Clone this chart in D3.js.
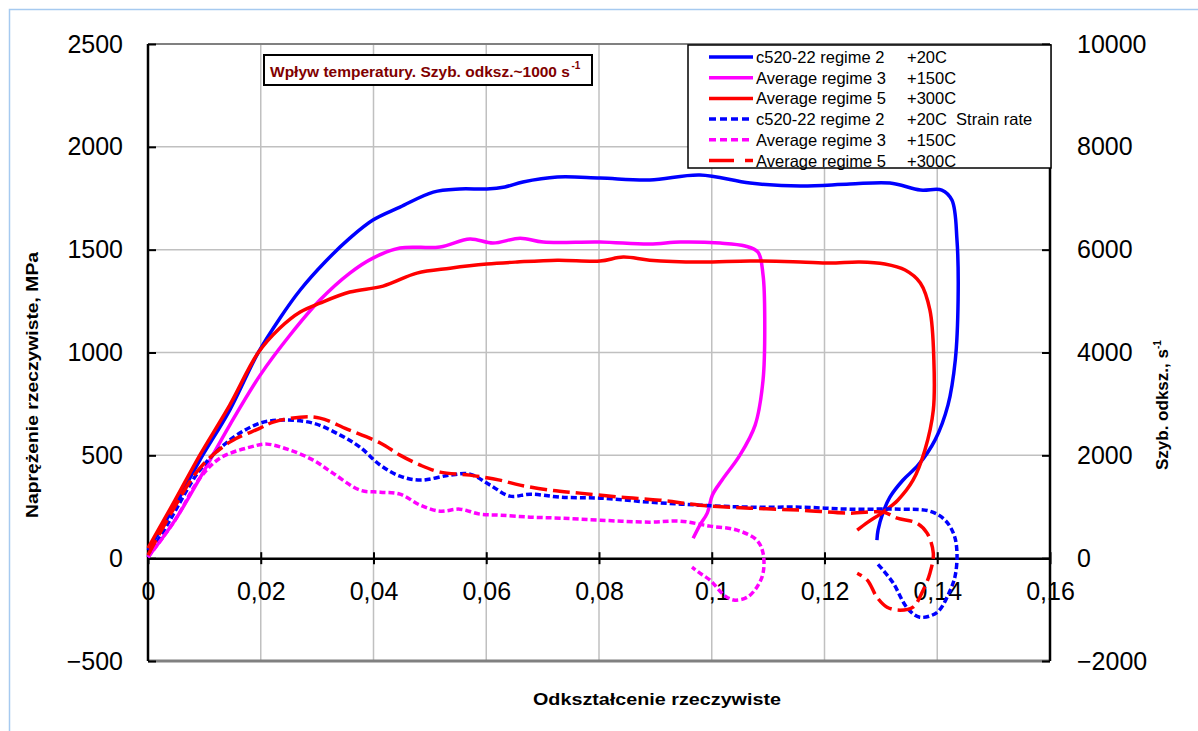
<!DOCTYPE html>
<html lang="pl">
<head>
<meta charset="UTF-8">
<title>Wpływ temperatury</title>
<script src="https://d3js.org/d3.v7.min.js"></script>
<style>
  body { margin: 0; background: #fff; }
  svg text { font-family: "Liberation Sans", Arial, sans-serif; }
</style>
</head>
<body>
<svg id="chart" width="1198" height="731"></svg>
<script>
// stress curves [strain, MPa]
const stress20 = [[0,39],[0.0048,258],[0.0092,477],[0.0145,720],[0.0195,997],[0.0234,1167],[0.027,1304],[0.0314,1440],[0.0358,1556],[0.0399,1644],[0.0447,1707],[0.0506,1780],[0.0553,1795],[0.0601,1795],[0.0633,1805],[0.0665,1829],[0.0726,1853],[0.0802,1848],[0.089,1839],[0.0979,1863],[0.1068,1824],[0.1157,1809],[0.1245,1819],[0.1316,1824],[0.137,1790],[0.1408,1790],[0.1426,1741],[0.1435,1547],[0.1437,1255],[0.1432,963],[0.1419,744],[0.1396,574],[0.1366,452],[0.1339,379],[0.1316,297],[0.1304,224],[0.1295,136],[0.1293,88]];
const stress150 = [[0,5],[0.0048,185],[0.0092,389],[0.0145,647],[0.0199,890],[0.0252,1085],[0.0305,1255],[0.0358,1386],[0.0399,1459],[0.0447,1508],[0.0518,1513],[0.0571,1552],[0.0612,1532],[0.066,1556],[0.0701,1537],[0.0802,1537],[0.089,1527],[0.0944,1537],[0.1015,1532],[0.1059,1518],[0.1082,1488],[0.1091,1377],[0.1094,1158],[0.1091,866],[0.1077,647],[0.105,501],[0.1018,379],[0.1001,306],[0.0992,219],[0.0979,161],[0.0967,97]];
const stress300 = [[0,49],[0.0048,282],[0.0092,501],[0.0145,744],[0.0195,997],[0.0234,1119],[0.027,1197],[0.0305,1240],[0.0358,1294],[0.0417,1323],[0.0477,1386],[0.0536,1410],[0.0601,1430],[0.0655,1440],[0.0726,1449],[0.0802,1445],[0.0843,1464],[0.089,1449],[0.0979,1440],[0.1068,1445],[0.1157,1440],[0.121,1435],[0.1263,1440],[0.1307,1430],[0.1343,1401],[0.137,1338],[0.1387,1206],[0.1394,963],[0.1393,720],[0.1378,525],[0.1357,379],[0.133,282],[0.1304,224],[0.1277,175],[0.1258,136]];

// strain rate curves [strain, 1/s]
const rate20 = [[0,19],[0.0039,739],[0.0092,1712],[0.0145,2296],[0.0199,2626],[0.024,2685],[0.0293,2626],[0.0341,2393],[0.0376,2160],[0.0412,1809],[0.0447,1595],[0.0483,1518],[0.0536,1615],[0.0571,1634],[0.0607,1420],[0.0642,1206],[0.0678,1245],[0.0731,1187],[0.0802,1167],[0.089,1089],[0.0979,1031],[0.1068,992],[0.1157,992],[0.1245,953],[0.1334,953],[0.1387,914],[0.1414,739],[0.143,447],[0.1435,97],[0.1432,-331],[0.1423,-623],[0.14,-1051],[0.1369,-1148],[0.1347,-973],[0.1322,-486],[0.1304,-233],[0.1293,-97]];
const rate150 = [[0,19],[0.0048,739],[0.0092,1556],[0.0128,1946],[0.0181,2160],[0.0211,2218],[0.0252,2101],[0.0293,1907],[0.0328,1654],[0.0376,1323],[0.0412,1284],[0.0447,1245],[0.0483,1031],[0.0518,914],[0.0553,953],[0.0589,856],[0.0624,837],[0.0678,798],[0.0731,778],[0.0802,739],[0.089,700],[0.0944,720],[0.0997,623],[0.1045,545],[0.108,350],[0.1091,97],[0.1091,-292],[0.108,-564],[0.1063,-759],[0.1041,-817],[0.1024,-739],[0.0997,-428],[0.0979,-292],[0.0965,-175]];
const rate300 = [[0,58],[0.0039,837],[0.0092,1751],[0.0145,2257],[0.0199,2529],[0.0222,2646],[0.027,2743],[0.0305,2724],[0.0353,2510],[0.0412,2240],[0.0447,2004],[0.0483,1809],[0.0518,1673],[0.0571,1615],[0.0624,1518],[0.066,1420],[0.0713,1323],[0.0766,1265],[0.0837,1187],[0.0908,1128],[0.0979,1031],[0.1068,973],[0.1157,934],[0.1245,875],[0.1304,895],[0.1329,778],[0.1364,681],[0.1382,486],[0.1393,97],[0.1387,-292],[0.1375,-623],[0.1357,-953],[0.1334,-1012],[0.1311,-953],[0.1293,-759],[0.1276,-428],[0.1258,-292]];

const xTicks = [0, 0.02, 0.04, 0.06, 0.08, 0.1, 0.12, 0.14, 0.16];
const leftTicks = [-500, 0, 500, 1000, 1500, 2000, 2500];
const rightTicks = [-2000, 0, 2000, 4000, 6000, 8000, 10000];
const legendNames = ["c520-22 regime 2", "Average regime 3", "Average regime 5", "c520-22 regime 2", "Average regime 3", "Average regime 5"];
const legendTemps = ["+20C", "+150C", "+300C", "+20C  Strain rate", "+150C", "+300C"];

const svg = d3.select("#chart");
const L = 148, R = 1050, T = 44, B = 661;

const x = d3.scaleLinear().domain([0, 0.16]).range([L, R]);
const yL = d3.scaleLinear().domain([-500, 2500]).range([B, T]);
const yR = d3.scaleLinear().domain([-2000, 10000]).range([B, T]);

// outer frame
svg.append("rect").attr("x", 9.5).attr("y", 9.5).attr("width", 1250).attr("height", 800)
  .attr("fill", "none").attr("stroke", "#a6caf0").attr("stroke-width", 1.5);

// grid
svg.append("g").selectAll("line").data(xTicks.filter(d => d > 0 && d < 0.16)).join("line")
  .attr("x1", d => x(d)).attr("x2", d => x(d)).attr("y1", T).attr("y2", B)
  .attr("stroke", "#c0c0c0").attr("stroke-width", 1.5);
svg.append("g").selectAll("line").data(leftTicks.filter(d => d > 0 && d < 2500)).join("line")
  .attr("x1", L).attr("x2", R).attr("y1", d => yL(d)).attr("y2", d => yL(d))
  .attr("stroke", "#c0c0c0").attr("stroke-width", 1.5);

// plot frame top/bottom
svg.append("line").attr("x1", L).attr("x2", R).attr("y1", T).attr("y2", T)
  .attr("stroke", "#808080").attr("stroke-width", 2);
svg.append("line").attr("x1", L).attr("x2", R).attr("y1", B).attr("y2", B)
  .attr("stroke", "#808080").attr("stroke-width", 3);

// axes
const fmtX = d => d === 0 ? "0" : String(+d.toFixed(2)).replace(".", ",");
const axL = svg.append("g").attr("transform", `translate(${L},0)`)
  .call(d3.axisLeft(yL).tickValues(leftTicks).tickSize(-8).tickPadding(25).tickSizeOuter(0).tickFormat(d3.format("d")));
const axR = svg.append("g").attr("transform", `translate(${R},0)`)
  .call(d3.axisRight(yR).tickValues(rightTicks).tickSize(-8).tickPadding(27).tickSizeOuter(0).tickFormat(d3.format("d")));
const axX = svg.append("g").attr("transform", `translate(0,${yL(0)})`)
  .call(d3.axisBottom(x).tickValues(xTicks).tickSize(6).tickPadding(18).tickSizeOuter(0).tickFormat(fmtX));
axX.selectAll(".tick line").attr("y1", -6);
[axL, axR, axX].forEach(a => {
  a.selectAll(".domain").attr("stroke", "#000").attr("stroke-width", 2.5);
  a.selectAll(".tick line").attr("stroke", "#000").attr("stroke-width", 2);
  a.selectAll(".tick text").attr("font-size", 25).attr("fill", "#000")
    .style("font-family", '"Liberation Sans", Arial, sans-serif');
});
axL.select(".domain").attr("d", `M0,${T}V${B}`);
axR.select(".domain").attr("d", `M0,${T}V${B}`);

// curves
const curve = d3.curveCatmullRom.alpha(0.5);
const lineL = d3.line().x(d => x(d[0])).y(d => yL(d[1])).curve(curve);
const lineR = d3.line().x(d => x(d[0])).y(d => yR(d[1])).curve(curve);
const plot = [
  { data: stress20, gen: lineL, color: "#0000ff", dash: null, legDash: null },
  { data: stress150, gen: lineL, color: "#ff00ff", dash: null, legDash: null },
  { data: stress300, gen: lineL, color: "#ff0000", dash: null, legDash: null },
  { data: rate20, gen: lineR, color: "#0000ff", dash: "6,3", legDash: "7,4" },
  { data: rate150, gen: lineR, color: "#ff00ff", dash: "6,3", legDash: "7,4" },
  { data: rate300, gen: lineR, color: "#ff0000", dash: "17,6", legDash: "25,11" }
];
svg.append("g").selectAll("path").data(plot).join("path")
  .attr("d", s => s.gen(s.data))
  .attr("fill", "none").attr("stroke", s => s.color).attr("stroke-width", 3.5)
  .attr("stroke-dasharray", s => s.dash).attr("stroke-linejoin", "round");

// title box
const tg = svg.append("g");
tg.append("rect").attr("x", 264).attr("y", 55).attr("width", 328).attr("height", 30)
  .attr("fill", "#fff").attr("stroke", "#000").attr("stroke-width", 2);
const tMain = tg.append("text").attr("x", 270).attr("y", 77).attr("font-size", 15.5)
  .attr("font-weight", "bold").attr("fill", "#800000")
  .text("Wpływ temperatury. Szyb. odksz.~1000 s");
const tEnd = 270 + tMain.node().getComputedTextLength();
tg.append("text").attr("x", tEnd + 1.5).attr("y", 69).attr("font-size", 10)
  .attr("font-weight", "bold").attr("fill", "#800000").text("-1");

// legend
const lg = svg.append("g");
lg.append("rect").attr("x", 688).attr("y", 45).attr("width", 363).attr("height", 123)
  .attr("fill", "#fff").attr("stroke", "#000").attr("stroke-width", 1.5);
const rows = lg.selectAll("g.row").data(plot).join("g").attr("class", "row")
  .attr("transform", (d, i) => `translate(0,${57 + i * 20.7})`);
rows.append("line").attr("x1", 709).attr("x2", 753).attr("y1", 0).attr("y2", 0)
  .attr("stroke", d => d.color).attr("stroke-width", 3.5).attr("stroke-dasharray", d => d.legDash);
rows.append("text").attr("x", 756).attr("y", 6).attr("font-size", 16.5).text((d, i) => legendNames[i]);
rows.append("text").attr("x", 907).attr("y", 6).attr("font-size", 16.5)
  .attr("xml:space", "preserve").style("white-space", "pre").text((d, i) => legendTemps[i]);

// axis titles
svg.append("text").attr("transform", "translate(38,385) rotate(-90)").attr("text-anchor", "middle")
  .attr("font-size", 17).attr("font-weight", "bold").attr("textLength", 266).attr("lengthAdjust", "spacingAndGlyphs")
  .text("Naprężenie rzeczywiste, MPa");
svg.append("text").attr("x", 657).attr("y", 705).attr("text-anchor", "middle")
  .attr("font-size", 17).attr("font-weight", "bold").attr("textLength", 248).attr("lengthAdjust", "spacingAndGlyphs")
  .text("Odkształcenie rzeczywiste");
const rt = svg.append("text").attr("transform", "translate(1168,470) rotate(-90)")
  .attr("font-size", 17).attr("font-weight", "bold");
rt.append("tspan").text("Szyb. odksz., s");
rt.append("tspan").attr("dy", -7).attr("font-size", 10).text("-1");
</script>
</body>
</html>
